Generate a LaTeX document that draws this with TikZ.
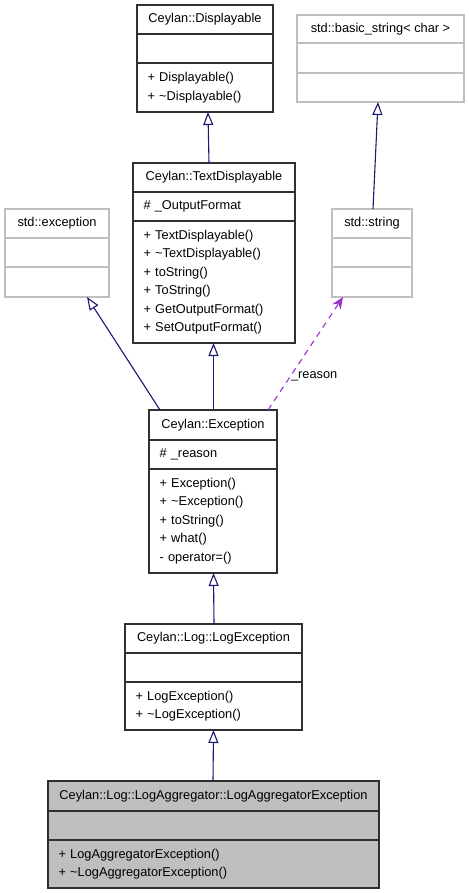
\documentclass[tikz,border=0pt]{standalone}
\usepackage{fontspec}
\setmainfont{Liberation Sans}
\usetikzlibrary{arrows.meta}
\definecolor{edgeblue}{HTML}{191970}
\definecolor{usepurple}{HTML}{9A32CD}
\definecolor{greyline}{HTML}{BFBFBF}
\definecolor{boxline}{HTML}{303030}
\definecolor{focusfill}{HTML}{BFBFBF}
\begin{document}
\begin{tikzpicture}[x=1pt,y=-1pt,
  font=\fontsize{12.8}{18.5}\selectfont,
  comp/.style={draw=boxline, line width=1.2pt, inner xsep=0pt, inner ysep=2pt,
    outer sep=0pt, anchor=north west},
  gcomp/.style={comp, draw=greyline},
  memb/.style={align=left, inner xsep=10.5pt},
  focus/.style={fill=focusfill},
  inh/.style={draw=edgeblue, line width=1.1pt,
    -{Triangle[open, length=13pt, width=10pt, line width=1.1pt]}},
  uses/.style={draw=usepurple, line width=1.1pt, dash pattern=on 6pt off 5pt,
    -{Stealth[length=12pt, width=10pt, inset=4pt]}},
  elabel/.style={inner sep=0pt, anchor=west}
]
\fill[white] (0,0) rectangle (468,893);
\useasboundingbox (0,0) rectangle (468,893);

% Ceylan::Displayable
\node[comp, minimum width=136pt, minimum height=29pt] (dispT) at (137,5) {Ceylan::Displayable};
\node[comp, minimum width=136pt, minimum height=29pt] (dispA) at (137,34) {};
\node[comp, memb, text width=115pt, minimum height=49pt] (dispM) at (137,63)
  {+ Displayable()\\+ \textasciitilde Displayable()};

% std::basic_string< char >
\node[gcomp, minimum width=167pt, minimum height=28pt] (bsT) at (297,15) {std::basic\_string< char >};
\node[gcomp, minimum width=167pt, minimum height=30pt] (bsA) at (297,43) {};
\node[gcomp, minimum width=167pt, minimum height=29pt] (bsM) at (297,73) {};

% Ceylan::TextDisplayable
\node[comp, minimum width=162pt, minimum height=29pt] (tdT) at (133,163) {Ceylan::TextDisplayable};
\node[comp, memb, text width=141pt, minimum height=29pt] (tdA) at (133,192) {\# \_OutputFormat};
\node[comp, memb, text width=141pt, minimum height=122pt] (tdM) at (133,221)
  {+ TextDisplayable()\\+ \textasciitilde TextDisplayable()\\+ toString()\\+ ToString()\\+ GetOutputFormat()\\+ SetOutputFormat()};

% std::exception
\node[gcomp, minimum width=104pt, minimum height=29pt] (sexT) at (5,209) {std::exception};
\node[gcomp, minimum width=104pt, minimum height=29pt] (sexA) at (5,238) {};
\node[gcomp, minimum width=104pt, minimum height=30pt] (sexM) at (5,267) {};

% std::string
\node[gcomp, minimum width=80pt, minimum height=29pt] (strT) at (332,209) {std::string};
\node[gcomp, minimum width=80pt, minimum height=29pt] (strA) at (332,238) {};
\node[gcomp, minimum width=80pt, minimum height=30pt] (strM) at (332,267) {};

% Ceylan::Exception
\node[comp, minimum width=128pt, minimum height=30pt] (exT) at (149,410) {Ceylan::Exception};
\node[comp, memb, text width=107pt, minimum height=29pt] (exA) at (149,440) {\# \_reason};
\node[comp, memb, text width=107pt, minimum height=104pt] (exM) at (149,469)
  {+ Exception()\\+ \textasciitilde Exception()\\+ toString()\\+ what()\\- operator=()};

% Ceylan::Log::LogException
\node[comp, minimum width=177pt, minimum height=29pt] (leT) at (125,624) {Ceylan::Log::LogException};
\node[comp, minimum width=177pt, minimum height=29pt] (leA) at (125,653) {};
\node[comp, memb, text width=156pt, minimum height=48pt] (leM) at (125,682)
  {+ LogException()\\+ \textasciitilde LogException()};

% Ceylan::Log::LogAggregator::LogAggregatorException
\node[comp, focus, minimum width=331pt, minimum height=30pt] (laT) at (48,781) {Ceylan::Log::LogAggregator::LogAggregatorException};
\node[comp, focus, minimum width=331pt, minimum height=29pt] (laA) at (48,811) {};
\node[comp, focus, memb, text width=310pt, minimum height=48pt] (laM) at (48,840)
  {+ LogAggregatorException()\\+ \textasciitilde LogAggregatorException()};

% connectors
\draw[inh] ([xshift=-5pt]tdT.north) -- ([xshift=3pt]dispM.south);
\draw[inh] ([xshift=1pt]strT.north) -- ([xshift=-2.5pt]bsM.south);
\draw[inh] ([xshift=-53pt]exT.north) -- ([xshift=30pt]sexM.south);
\draw[inh] ([xshift=0.5pt]exT.north) -- ([xshift=-0.5pt]tdM.south);
\draw[uses] ([xshift=55pt]exT.north) -- node[elabel, pos=0.3] (reason) {\_reason} ([xshift=-29pt]strM.south);
\draw[inh] ([xshift=0.5pt]leT.north) -- ([xshift=0.5pt]exM.south);
\draw[inh] ([xshift=-0.5pt]laT.north) -- (leM.south);
\end{tikzpicture}
\end{document}
